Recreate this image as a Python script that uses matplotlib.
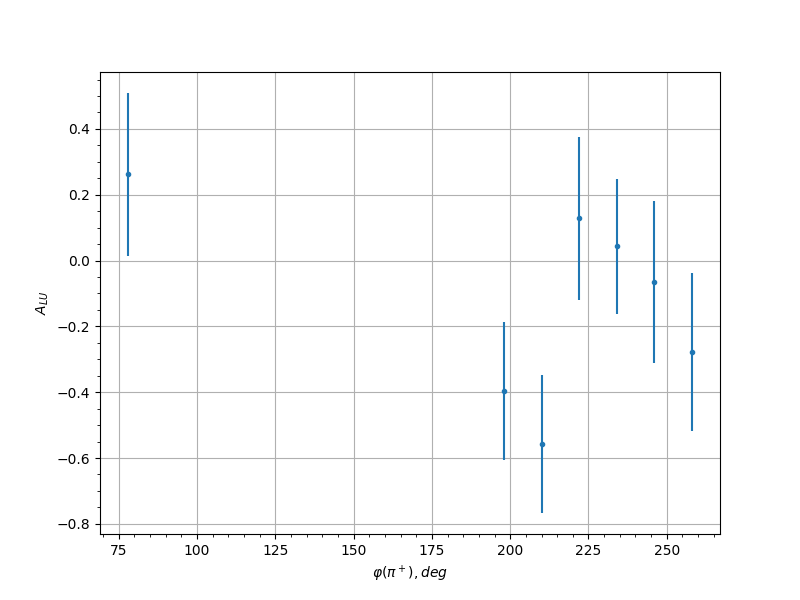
import matplotlib
matplotlib.use("Agg")
import matplotlib.pyplot as plt

phi = [78, 198, 210, 222, 234, 246, 258]
alu = [0.262, -0.396, -0.557, 0.128, 0.043, -0.065, -0.278]
err = [0.247, 0.210, 0.210, 0.248, 0.205, 0.245, 0.240]

fig, ax = plt.subplots(figsize=(8, 6), dpi=100)
ax.errorbar(phi, alu, yerr=err, fmt='.')
ax.set_xlabel(r'$\varphi(\pi^+), deg$')
ax.set_ylabel(r'$A_{LU}$')
ax.grid(True)
ax.minorticks_on()
fig.savefig("out.png")
